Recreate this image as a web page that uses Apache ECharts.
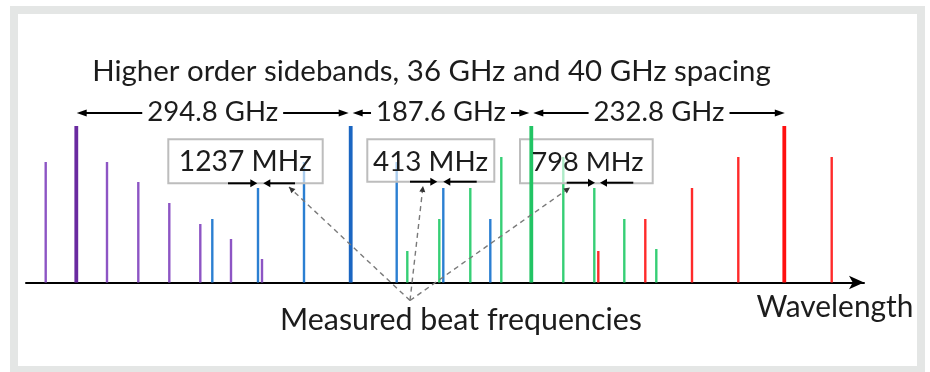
<!DOCTYPE html>
<html><head><meta charset="utf-8">
<script src="https://cdn.jsdelivr.net/npm/echarts@6/dist/echarts.min.js"></script>
<style>html,body{margin:0;padding:0;background:#fff}#c{width:930px;height:372px}</style>
</head><body><div id="c"></div>
<script>
// ---- data (positions in arbitrary wavelength units, heights in arbitrary power units) ----
const purpleX = [19.7, 50.3, 81, 112.3, 143.3, 174.3, 205, 236];
const purpleH = [120.5, 156.5, 120.5, 100.5, 79.5, 58.5, 43.5, 23.5];
const blueX   = [186.3, 232, 278, 324.7, 370.7, 417.3, 464.3];
const blueH   = [63.5, 94.5, 120.5, 156.5, 120.5, 94.5, 63.5];
const greenX  = [381.3, 413.3, 444.3, 475.3, 505.3, 537.3, 568.3, 598.3, 630.3];
const greenH  = [31.5, 63.5, 94.5, 125.5, 156.5, 125.5, 94.5, 63.5, 33.5];
const redX    = [572.3, 619.3, 666, 712.3, 758.3, 805.7];
const redH    = [31.5, 63.5, 94.5, 125.5, 156.5, 125.5];
const spanLabels = ['294.8 GHz', '187.6 GHz', '232.8 GHz'];
const beatLabels = ['1237 MHz', '413 MHz', '798 MHz'];
const titleText = 'Higher order sidebands, 36 GHz and 40 GHz spacing';
const axisName = 'Wavelength';
const noteText = 'Measured beat frequencies';

const FONT = 'Lato, "Open Sans", sans-serif';
const TXT = '#1c1c1c';
const groups = [
  {x: purpleX, h: purpleH, thin: '#8d55c4', thick: '#6a2aa0'},
  {x: blueX,   h: blueH,   thin: '#2b7fd2', thick: '#1a66c2'},
  {x: greenX,  h: greenH,  thin: '#36cf75', thick: '#22c464'},
  {x: redX,    h: redH,    thin: '#ff2a2a', thick: '#ff1010'}
];

const chart = echarts.init(document.getElementById('c'), null, {renderer: 'canvas'});

function makeRender(width) {
  return function (params, api) {
    const p0 = api.coord([api.value(0), 0]);
    const p1 = api.coord([api.value(0), api.value(1)]);
    return {type: 'line', shape: {x1: p0[0], y1: p0[1], x2: p1[0], y2: p1[1]},
      style: {stroke: api.visual('color'), lineWidth: width}};
  };
}
const series = [];
groups.forEach(g => {
  const mx = Math.max(...g.h);
  const pts = g.x.map((x, i) => [x, g.h[i]]);
  series.push({type: 'custom', renderItem: makeRender(2.4), itemStyle: {color: g.thin}, z: 2, silent: true,
    data: pts.filter(p => p[1] !== mx)});
  series.push({type: 'custom', renderItem: makeRender(3.8), itemStyle: {color: g.thick}, z: 10, silent: true,
    data: pts.filter(p => p[1] === mx)});
});

chart.setOption({
  animation: false,
  backgroundColor: '#fff',
  grid: {left: 26, right: 66, top: 82.5, bottom: 89.5, containLabel: false},
  xAxis: {type: 'value', min: 0, max: 838,
    axisLine: {show: true, onZero: false, symbol: ['none', 'arrow'], symbolSize: [10, 15],
      lineStyle: {color: '#000', width: 2}},
    axisTick: {show: false}, axisLabel: {show: false}, splitLine: {show: false}},
  yAxis: {type: 'value', min: 0, max: 200, show: false},
  series: series
});

// ---- annotations ----
const ctx = document.createElement('canvas').getContext('2d');
const CAP = 0.7165; // Lato cap-height ratio
function fit(text, w) { ctx.font = '100px ' + FONT; return 100 * w / ctx.measureText(text).width; }
function txt(text, cx, cy, w, cap, z, extra) {
  const s = fit(text, w);
  const sy = Math.min(1.3, Math.max(1, cap / (CAP * s)));
  return {type: 'text', x: cx, y: cy, z: z || 20, scaleY: sy,
    style: Object.assign({text: text, fontSize: s, fontFamily: FONT, fill: TXT,
      align: 'center', verticalAlign: 'middle', textAlign: 'center', textVerticalAlign: 'middle'}, extra || {})};
}
function head(tx, ty, dir, len, half, color, z) {
  return {type: 'polygon', z: z || 21, shape: {points: [[tx, ty], [tx - dir * len, ty - half], [tx - dir * len, ty + half]]},
    style: {fill: color || '#000'}};
}
function seg(x1, y1, x2, y2, w, z, extra) {
  return {type: 'line', z: z || 20, shape: {x1, y1, x2, y2}, style: Object.assign({stroke: '#000', lineWidth: w}, extra || {})};
}

const els = [];
// frame
els.push({type: 'rect', z: 0, shape: {x: 14, y: 10, width: 907, height: 360}, style: {fill: 'none', stroke: '#e4e6e5', lineWidth: 8}});
// title
els.push(txt(titleText, 431.5, 71.5, 679, 18.3));

// span arrows between carriers
const carriers = groups.map(g => chart.convertToPixel({xAxisIndex: 0}, g.x[g.h.indexOf(Math.max(...g.h))]));
const AY = 113;
for (let i = 0; i < 3; i++) {
  const L = i === 0 ? carriers[i] + 0.4 : carriers[i] + 2;
  const R = i === 2 ? carriers[i + 1] + 0.5 : carriers[i + 1] - 2;
  els.push(seg(L + 6, AY, R - 6, AY, 1.8));
  els.push(head(L, AY, -1, 10, 3.6));
  els.push(head(R, AY, 1, 10, 3.6));
  const wl = [131, 130, 131][i];
  els.push(txt(spanLabels[i], (L + R) / 2, AY - 0.5, wl, 18.6, 22, {backgroundColor: '#fff', padding: [0, 5]}));
}

// beat boxes
const boxes = [
  {x: 168.3, y: 139.3, w: 154.4, h: 44, tw: 133, tc: 245.3},
  {x: 367.3, y: 139.3, w: 127, h: 42.4, tw: 115, tc: 430.5},
  {x: 520, y: 139.3, w: 132.7, h: 44, tw: 112, tc: 587.5}
];
boxes.forEach((b, i) => {
  els.push({type: 'rect', z: 6, shape: {x: b.x, y: b.y, width: b.w, height: b.h},
    style: {fill: 'rgba(255,255,255,0.6)', stroke: '#bdbdbd', lineWidth: 2}});
  els.push(txt(beatLabels[i], b.tc, 162.3, b.tw, 19, 22));
});
// beat arrows
const beats = [
  {y: 183.3, a: 228, ta: 257.3, tb: 263.3, b: 295},
  {y: 181.7, a: 410, ta: 437.3, tb: 443.3, b: 476.7},
  {y: 182.7, a: 566.7, ta: 595, tb: 600, b: 633.3}
];
beats.forEach(k => {
  els.push(seg(k.a, k.y, k.ta - 6, k.y, 2, 23));
  els.push(head(k.ta, k.y, 1, 7, 4, '#000', 24));
  els.push(seg(k.b, k.y, k.tb + 6, k.y, 2, 23));
  els.push(head(k.tb, k.y, -1, 7, 4, '#000', 24));
});
// dashed pointers
const P = [410, 300.5];
const ends = [[289, 187], [423, 186], [570, 187.5]];
ends.forEach(e => {
  els.push(seg(P[0], P[1], e[0], e[1], 1.4, 15, {stroke: '#7a7a7a', lineDash: [5, 4]}));
  const ang = Math.atan2(e[1] - P[1], e[0] - P[0]);
  const L = 6, H = 3;
  const bx = e[0] - Math.cos(ang) * L, by = e[1] - Math.sin(ang) * L;
  els.push({type: 'polygon', z: 16, shape: {points: [[e[0], e[1]],
    [bx + Math.sin(ang) * H, by - Math.cos(ang) * H], [bx - Math.sin(ang) * H, by + Math.cos(ang) * H]]},
    style: {fill: '#333'}});
});
// bottom texts
els.push(txt(noteText, 461, 320.5, 362, 20));
els.push(txt(axisName, 835, 307, 157, 20));

chart.setOption({graphic: {elements: els}});
</script>
</body></html>
